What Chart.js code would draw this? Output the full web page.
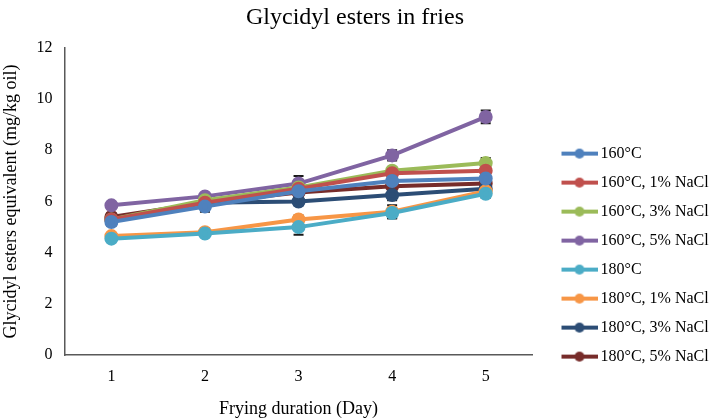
<!DOCTYPE html>
<html>
<head>
<meta charset="utf-8">
<script src="https://cdn.jsdelivr.net/npm/chart.js@4/dist/chart.umd.min.js"></script>
<style>
  html, body { margin: 0; padding: 0; background: #fff; }
  #wrap { width: 715px; height: 418px; }
</style>
</head>
<body>
<div id="wrap"><canvas id="chart"></canvas></div>
<script>
const days = ['1', '2', '3', '4', '5']
const seriesNames = ['160°C', '160°C, 1% NaCl', '160°C, 3% NaCl', '160°C, 5% NaCl',
    '180°C', '180°C, 1% NaCl', '180°C, 3% NaCl', '180°C, 5% NaCl']
const seriesColors = ['#4F81BD', '#C0504D', '#9BBB59', '#8064A2',
    '#4BACC6', '#F79646', '#2C4D75', '#772C2A']

// mean values per series (mg/kg oil)
const t160 = [5.2, 5.8, 6.4, 6.8, 6.9]
const t160n1 = [5.3, 5.95, 6.5, 7.1, 7.2]
const t160n3 = [5.3, 6.05, 6.55, 7.2, 7.5]
const t160n5 = [5.85, 6.2, 6.7, 7.8, 9.3]
const t180 = [4.55, 4.75, 5.0, 5.55, 6.3]
const t180n1 = [4.65, 4.8, 5.3, 5.6, 6.4]
const t180n3 = [5.3, 5.95, 6.0, 6.25, 6.5]
const t180n5 = [5.4, 5.95, 6.35, 6.6, 6.7]

// standard deviations (error bars)
const e160 = [0.15, 0.2, 0.15, 0.15, 0.15]
const e160n1 = [0.1, 0.1, 0.15, 0.15, 0.15]
const e160n3 = [0.1, 0.1, 0.15, 0.15, 0.2]
const e160n5 = [0.1, 0.1, 0.3, 0.2, 0.25]
const e180 = [0.1, 0.1, 0.3, 0.2, 0.15]
const e180n1 = [0.1, 0.15, 0.15, 0.25, 0.15]
const e180n3 = [0.2, 0.15, 0.15, 0.2, 0.15]
const e180n5 = [0.15, 0.1, 0.15, 0.15, 0.15]

const allValues = [t160, t160n1, t160n3, t160n5, t180, t180n1, t180n3, t180n5]
const allErrors = [e160, e160n1, e160n3, e160n5, e180, e180n1, e180n3, e180n5]

// legend marker: short line with a dot, blank space on its left
const iconBox = 47
function legendIcon(color) {
    const c = document.createElement('canvas')
    c.width = iconBox + 10
    c.height = 12
    const g = c.getContext('2d')
    const x0 = c.width - 36
    g.strokeStyle = color
    g.lineWidth = 4
    g.beginPath()
    g.moveTo(x0, 6)
    g.lineTo(c.width, 6)
    g.stroke()
    g.fillStyle = color
    g.beginPath()
    g.arc(x0 + 18, 6, 5, 0, Math.PI * 2)
    g.fill()
    return c
}

const errorBars = {
    id: 'errorBars',
    beforeDatasetsDraw(chart) {
        const ctx = chart.ctx
        const y = chart.scales.y
        ctx.save()
        ctx.strokeStyle = '#1a1a1a'
        ctx.lineWidth = 2
        chart.data.datasets.forEach((ds, i) => {
            const meta = chart.getDatasetMeta(i)
            meta.data.forEach((pt, j) => {
                const err = allErrors[i][j]
                const top = y.getPixelForValue(ds.data[j] + err)
                const bot = y.getPixelForValue(ds.data[j] - err)
                ctx.beginPath()
                ctx.moveTo(pt.x, top)
                ctx.lineTo(pt.x, bot)
                ctx.moveTo(pt.x - 5, top)
                ctx.lineTo(pt.x + 5, top)
                ctx.moveTo(pt.x - 5, bot)
                ctx.lineTo(pt.x + 5, bot)
                ctx.stroke()
            })
        })
        ctx.restore()
    }
}

const serif = 'Liberation Serif, Times New Roman, serif'

new Chart(document.getElementById('chart'), {
    type: 'line',
    data: {
        labels: days,
        datasets: seriesNames.map((name, i) => ({
            label: name,
            data: allValues[i],
            borderColor: seriesColors[i],
            backgroundColor: seriesColors[i],
            borderWidth: 4,
            pointStyle: 'circle',
            pointRadius: 5,
            pointHoverRadius: 5,
            tension: 0
        }))
    },
    options: {
        responsive: true,
        maintainAspectRatio: false,
        animation: false,
        layout: { padding: { top: 3, right: 5, left: 0, bottom: -2 } },
        plugins: {
            title: {
                display: true,
                text: 'Glycidyl esters in fries',
                color: '#000',
                font: { family: serif, size: 24, weight: 'normal' },
                padding: { top: 0, bottom: 16 }
            },
            legend: {
                position: 'right',
                align: 'center',
                title: {
                    display: true,
                    text: ' ',
                    font: { size: 1 },
                    padding: { top: 86, bottom: 0 }
                },
                labels: {
                    usePointStyle: true,
                    pointStyleWidth: iconBox,
                    boxHeight: 12,
                    padding: 13,
                    color: '#000',
                    font: { family: serif, size: 16 },
                    generateLabels(chart) {
                        return chart.data.datasets.map((ds, i) => ({
                            text: ds.label,
                            pointStyle: legendIcon(seriesColors[i]),
                            fillStyle: seriesColors[i],
                            strokeStyle: seriesColors[i],
                            lineWidth: 0,
                            fontColor: '#000',
                            datasetIndex: i
                        }))
                    }
                }
            },
            tooltip: { enabled: false }
        },
        scales: {
            x: {
                offset: true,
                grid: { display: false, drawTicks: false },
                border: { display: true, color: '#595959', width: 1.5 },
                ticks: { color: '#000', font: { family: serif, size: 16 }, padding: 12 },
                title: {
                    display: true,
                    text: 'Frying duration (Day)',
                    color: '#000',
                    font: { family: serif, size: 18 },
                    padding: { top: 0, bottom: 0 }
                }
            },
            y: {
                min: 0,
                max: 12,
                grid: { display: false, drawTicks: false },
                border: { display: true, color: '#595959', width: 1.5 },
                ticks: { stepSize: 2, color: '#000', font: { family: serif, size: 16 }, padding: 12 },
                title: {
                    display: true,
                    text: 'Glycidyl esters equivalent (mg/kg oil)',
                    color: '#000',
                    font: { family: serif, size: 18 },
                    padding: { top: 0, bottom: 3 }
                }
            }
        }
    },
    plugins: [errorBars]
})
</script>
</body>
</html>
